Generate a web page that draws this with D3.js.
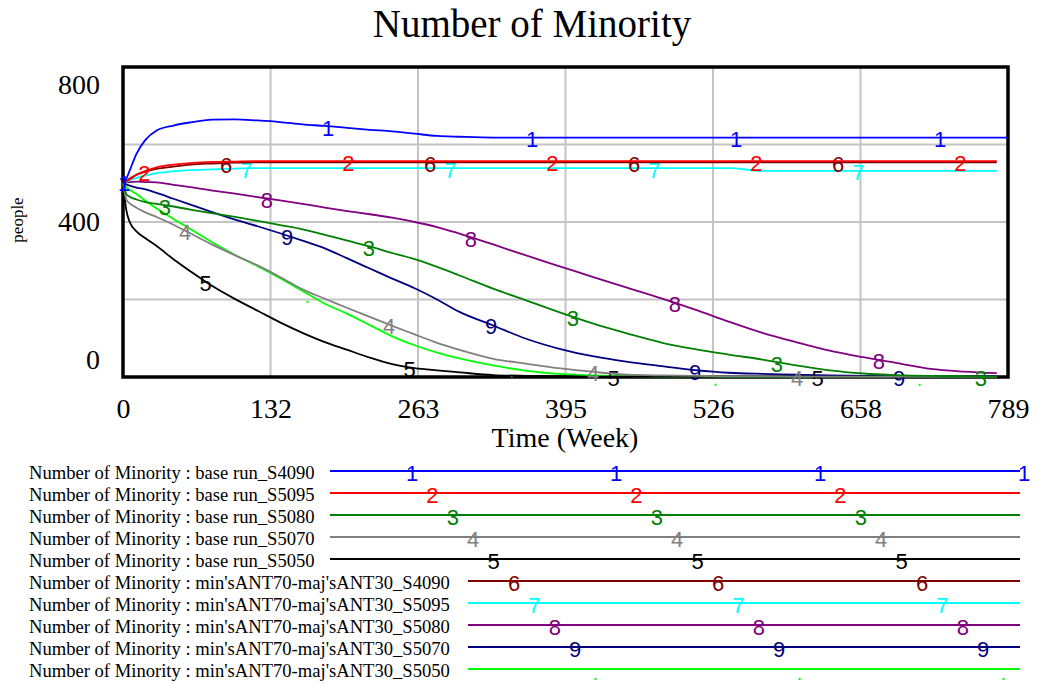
<!DOCTYPE html>
<html><head><meta charset="utf-8">
<script src="https://cdn.jsdelivr.net/npm/d3@7"></script>
<style>
html,body{margin:0;padding:0;background:#fff;}
svg{display:block;}
</style></head>
<body>
<svg id="chart" width="1040" height="684"></svg>
<script>
// ---------- data ----------
const title = "Number of Minority";
const xLabel = "Time (Week)";
const yLabel = "people";
const xTickLabels = ["0","132","263","395","526","658","789"];
const yTickValues = [800, 400, 0];
const yGridValues = [200, 400, 600];
const weeks = [0,3,6,12,20,30,45,60,80,100,120,140,160,180,200,220,240,260,280,300,330,360,390,420,450,480,510,540,570,600,630,660,690,720,750,779,789];

const s1 = [500,512,533,576,612,636,649,657,664,665,662,658,652,648,643,638,634,628,622,620,618,618,618,618,618,618,618,618,618,618,618,618,618,618,618,618,618];
const s2 = [500,505,510,522,532,541,548,552,555,556,557,557,557,557,557,557,557,557,557,557,557,557,557,557,557,557,557,557,557,557,557,557,557,557,557,557,null];
const s3 = [500,472,465,458,451,447,440,432,422,413,403,392,381,367,352,337,320,304,284,262,228,197,166,137,112,89,72,58,45,30,17,9,5,3,2,1,null];
const s4 = [500,458,448,437,425,413,393,371,341,314,288,258,226,202,178,155,132,110,88,70,47,34,22,13,6,4,3,2,2,1,1,1,1,1,1,1,null];
const s5 = [500,430,400,376,358,338,304,273,234,201,171,141,114,90,70,50,33,23,17,12,5,3,2,1,1,1,1,1,1,1,1,1,1,1,1,1,null];
const s6 = [500,505,512,522,530,537,543,548,551,553,554,554,554,554,554,554,554,554,554,554,554,554,554,554,554,554,554,554,554,554,554,554,554,554,554,554,null];
const s7 = [500,503,508,514,520,526,531,534,536,538,539,539,539,539,539,539,539,539,539,539,539,539,539,539,539,539,539,539,532,532,532,532,532,532,532,532,null];
const s8 = [500,502,503,504,503,502,496,490,481,473,464,456,447,437,428,420,411,400,387,370,342,313,285,257,230,203,174,143,114,90,68,51,36,21,14,10,null];
const s9 = [500,497,494,489,484,475,460,445,425,406,389,371,352,332,306,280,254,229,200,168,133,98,72,53,39,28,18,11,8,6,4,3,2,2,2,2,null];
const s10 = [500,490,483,472,455,435,408,382,347,315,286,255,222,189,163,134,105,82,63,48,30,16,8,4,2,1,1,0.5,0.5,0.5,0.5,0.5,0.5,0.5,0.5,0.5,null];

const seriesNames = [
  "Number of Minority : base run_S4090",
  "Number of Minority : base run_S5095",
  "Number of Minority : base run_S5080",
  "Number of Minority : base run_S5070",
  "Number of Minority : base run_S5050",
  "Number of Minority : min'sANT70-maj'sANT30_S4090",
  "Number of Minority : min'sANT70-maj'sANT30_S5095",
  "Number of Minority : min'sANT70-maj'sANT30_S5080",
  "Number of Minority : min'sANT70-maj'sANT30_S5070",
  "Number of Minority : min'sANT70-maj'sANT30_S5050"
];
const seriesColors = ["#0000ff","#ff0000","#008000","#808080","#000000","#800000","#00ffff","#800080","#000080","#00ff00"];
const seriesValues = [s1,s2,s3,s4,s5,s6,s7,s8,s9,s10];

// ---------- layout ----------
const svg = d3.select("#chart");
const plot = {left:123, right:1008, top:67, bottom:377};
const serif = "'Liberation Serif','Times New Roman',serif";
const sans = "'Liberation Sans',Arial,sans-serif";

const x = d3.scaleLinear().domain([0, 789]).range([plot.left, plot.right]);
const y = d3.scaleLinear().domain([0, 800]).range([plot.bottom, plot.top]);

// title
svg.append("text").attr("x", 532).attr("y", 37).attr("text-anchor","middle")
  .attr("font-family", serif).attr("font-size", 39).attr("fill","#000").text(title);

// gridlines
const xTickValues = xTickLabels.map((d,i) => i * 789 / (xTickLabels.length - 1));
const grid = svg.append("g").attr("stroke","#c4c4c4").attr("stroke-width",2);
grid.selectAll(".vg").data(xTickValues.slice(1,-1)).join("line")
  .attr("x1", d => x(d)).attr("x2", d => x(d)).attr("y1", plot.top).attr("y2", plot.bottom);
grid.selectAll(".hg").data(yGridValues).join("line")
  .attr("y1", d => y(d)).attr("y2", d => y(d)).attr("x1", plot.left).attr("x2", plot.right);

// frame
svg.append("rect").attr("x", plot.left).attr("y", plot.top)
  .attr("width", plot.right - plot.left).attr("height", plot.bottom - plot.top)
  .attr("fill","none").attr("stroke","#000").attr("stroke-width",3.5);

// x axis
const xAxis = d3.axisBottom(x).tickValues(xTickValues)
  .tickFormat((d,i) => xTickLabels[i]).tickSize(0).tickPadding(0);
const gx = svg.append("g").attr("transform", `translate(0,${plot.bottom})`).call(xAxis);
gx.select(".domain").remove();
gx.selectAll("text").attr("font-family", serif).attr("font-size", 28).attr("fill","#000")
  .attr("dy", null).attr("y", 41);

// y axis
const yAxis = d3.axisLeft(y).tickValues(yTickValues).tickSize(0).tickPadding(0).tickFormat(d3.format("d"));
const gy = svg.append("g").attr("transform", `translate(100,0)`).call(yAxis);
gy.select(".domain").remove();
gy.selectAll(".tick").attr("transform", d => {
  const cy = Math.max(plot.top + 18, Math.min(plot.bottom - 17, y(d)));
  return `translate(0,${cy})`;
});
gy.selectAll("text").attr("font-family", serif).attr("font-size", 28).attr("fill","#000")
  .attr("x", 0).attr("dy", "0.33em");

// axis titles
svg.append("text").attr("x", 565).attr("y", 447).attr("text-anchor","middle")
  .attr("font-family", serif).attr("font-size", 28).attr("fill","#000").text(xLabel);
svg.append("text").attr("transform","translate(23,220) rotate(-90)").attr("text-anchor","middle")
  .attr("font-family", serif).attr("font-size", 17).attr("fill","#000").text(yLabel);

// series
const line = d3.line()
  .defined(d => d.v !== null)
  .x(d => x(d.t)).y(d => y(d.v))
  .curve(d3.curveMonotoneX);

function valueAt(vals, t) {
  for (let i = 0; i < weeks.length - 1; i++) {
    if (t >= weeks[i] && t <= weeks[i+1]) {
      const a = vals[i], b = vals[i+1];
      if (a === null) return null;
      if (b === null) return a;
      const f = (t - weeks[i]) / (weeks[i+1] - weeks[i]);
      return a + (b - a) * f;
    }
  }
  return null;
}

const markerFont = 22;
const markerStep = 204, markerOffset = 20.4;
const linesG = svg.append("g");
for (let k = seriesValues.length - 1; k >= 0; k--) {
  const vals = seriesValues[k];
  const pts = weeks.map((t,i) => ({t, v: vals[i]}));
  const color = seriesColors[k];
  linesG.append("path").datum(pts).attr("d", line)
    .attr("fill","none").attr("stroke", color).attr("stroke-width", 1.8);
  const lastIdx = vals.reduce((acc, v, i) => v !== null ? i : acc, 0);
  const xEnd = x(weeks[lastIdx]);
  const mk = [];
  for (let px = plot.left + 1 + markerOffset * k; px <= xEnd; px += markerStep) {
    const t = x.invert(px);
    const v = valueAt(vals, t);
    if (v !== null) mk.push({px, py: y(v)});
  }
  if (k === 9) {
    linesG.selectAll(null).data(mk).join("rect")
      .attr("x", d => d.px - 1).attr("y", d => d.py + 7).attr("width", 2).attr("height", 2)
      .attr("fill", color);
  } else {
    linesG.selectAll(null).data(mk).join("text")
      .attr("x", d => d.px).attr("y", d => d.py + 9.5)
      .attr("text-anchor","middle").attr("font-family", sans).attr("font-size", markerFont)
      .attr("fill", color).text(k + 1);
  }
}

// legend
const legend = svg.append("g");
const rowY0 = 471, rowGap = 22, legendEnd = 1020;
seriesNames.forEach((name, i) => {
  const ly = rowY0 + rowGap * i;
  const color = seriesColors[i];
  const start = i < 5 ? 330 : 468;
  legend.append("text").attr("x", 29).attr("y", ly + 7.5)
    .attr("font-family", serif).attr("font-size", 18.6).attr("fill","#000").text(name);
  legend.append("line").attr("x1", start).attr("x2", legendEnd).attr("y1", ly).attr("y2", ly)
    .attr("stroke", color).attr("stroke-width", 1.8);
  for (let px = 412 + markerOffset * i; px <= legendEnd + 4; px += markerStep) {
    if (px < start) continue;
    if (i === 9) {
      legend.append("rect").attr("x", px - 1).attr("y", ly + 9).attr("width", 2).attr("height", 2).attr("fill", color);
    } else {
      legend.append("text").attr("x", px).attr("y", ly + 10).attr("text-anchor","middle")
        .attr("font-family", sans).attr("font-size", markerFont).attr("fill", color).text(i + 1);
    }
  }
});
</script>
</body></html>
